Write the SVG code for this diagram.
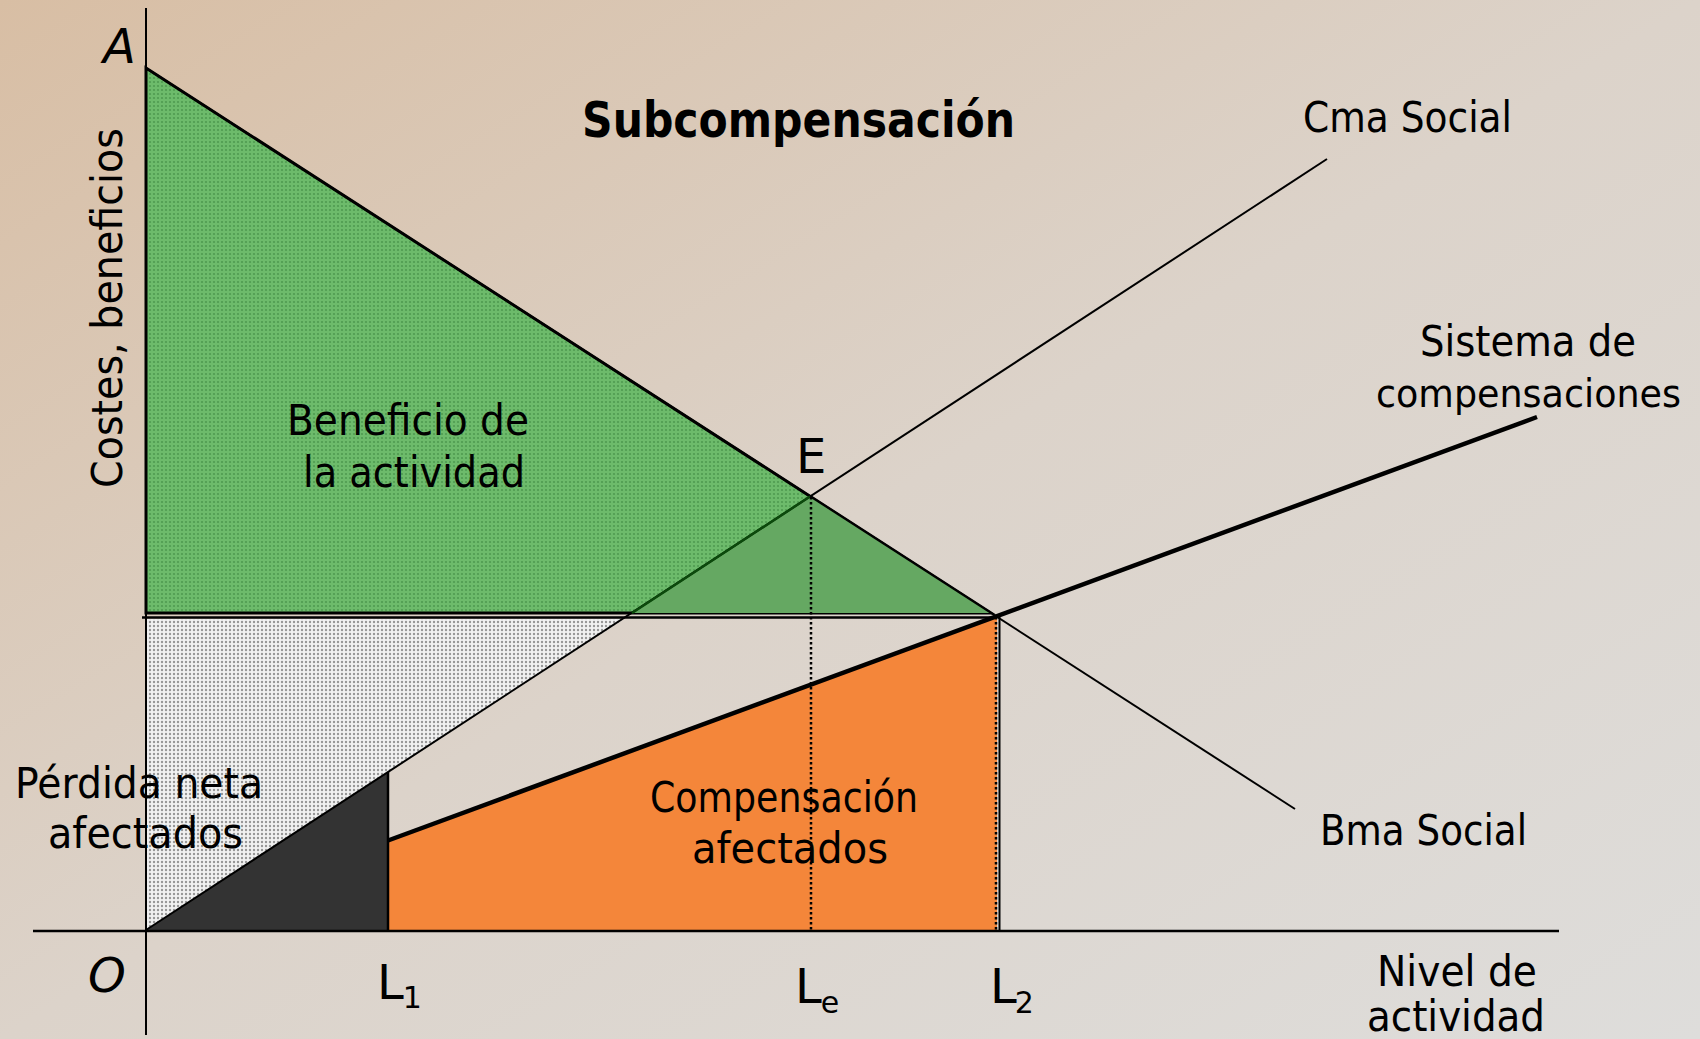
<svg xmlns="http://www.w3.org/2000/svg" width="1700" height="1039" viewBox="0 0 1700 1039">
<defs>
<linearGradient id="bg" x1="0" y1="0" x2="1" y2="1">
<stop offset="0" stop-color="#d8bea4"/>
<stop offset="0.5" stop-color="#dcd3ca"/>
<stop offset="1" stop-color="#dedddb"/>
</linearGradient>
<pattern id="dotsGray" width="4" height="4" patternUnits="userSpaceOnUse">
<rect width="4" height="4" fill="#f1f1f1"/>
<circle cx="2" cy="2" r="1.2" fill="#969696"/>
</pattern>
<pattern id="dotsGreen" width="4" height="4" patternUnits="userSpaceOnUse">
<rect width="4" height="4" fill="#6dbb6b"/>
<circle cx="2" cy="2" r="1.1" fill="#4f9b50"/>
</pattern>
<style>
text{font-family:"DejaVu Sans","Liberation Sans",sans-serif;fill:#000;}
.lbl{font-size:42px;}
.ax{font-size:48px;}
.sub{font-size:30px;}
.ln{stroke:#000;fill:none;}
.dot{stroke:#000;stroke-width:2.5;stroke-dasharray:2.5 2.5;fill:none;}
</style>
</defs>
<rect width="1700" height="1039" fill="url(#bg)"/>

<g id="perdida-region">
<polygon points="146,619 624,619 146,930" fill="url(#dotsGray)"/>
</g>
<g id="beneficio-region">
<polygon points="146,68 991,613 146,613" fill="url(#dotsGreen)" stroke="#000" stroke-width="3" stroke-linejoin="miter"/>
<polygon points="632,613 810,496.5 991,613" fill="#65a862"/>
</g>
<g id="compensacion-region">
<polygon points="388,840 997,616 997,930 388,930" fill="#f4863a"/>
</g>
<g id="perdida-black">
<polygon points="146,930 388,930 388,772" fill="#333333"/>
</g>

<g id="connectors">
<line class="ln" x1="146" y1="8" x2="146" y2="1035" stroke-width="2"/>
<line class="ln" x1="33" y1="931" x2="1559" y2="931" stroke-width="2.5"/>
<line class="ln" x1="142" y1="617.5" x2="997" y2="617.5" stroke-width="2.5"/>
<line class="ln" x1="146" y1="68" x2="1295" y2="809" stroke-width="2"/>
<line class="ln" x1="146" y1="930" x2="1327" y2="159" stroke-width="2"/>
<line x1="632" y1="613" x2="810" y2="496.5" stroke="#0b4a0b" stroke-width="2.5"/>
<line class="ln" x1="388" y1="840.5" x2="1537" y2="417" stroke-width="4.5"/>
<line class="ln" x1="388" y1="772" x2="388" y2="930" stroke-width="2.5"/>
<line class="ln" x1="999.5" y1="617" x2="999.5" y2="930" stroke-width="2"/>
<line class="dot" x1="996" y1="617" x2="996" y2="930"/>
<line class="dot" x1="811" y1="497" x2="811" y2="930"/>
</g>

<g id="labels">
<text x="582" y="137" font-size="50" font-weight="bold" textLength="433" lengthAdjust="spacingAndGlyphs">Subcompensación</text>
<text class="ax" x="103" y="63" font-style="italic">A</text>
<text class="ax" x="796" y="473">E</text>
<text class="ax" x="88" y="992" font-style="italic">O</text>
<text class="ax" x="377" y="999">L<tspan class="sub" dx="-1" dy="9">1</tspan></text>
<text class="ax" x="795" y="1003">L<tspan class="sub" dx="-1" dy="10">e</tspan></text>
<text class="ax" x="990" y="1003">L<tspan class="sub" dx="-2" dy="10">2</tspan></text>
<text class="lbl" x="1303" y="132" textLength="209" lengthAdjust="spacingAndGlyphs">Cma Social</text>
<text class="lbl" x="1636" y="356" text-anchor="end" textLength="216" lengthAdjust="spacingAndGlyphs">Sistema de</text>
<text x="1681" y="407" font-size="39" text-anchor="end" textLength="305" lengthAdjust="spacingAndGlyphs">compensaciones</text>
<text class="lbl" x="287" y="435" textLength="242" lengthAdjust="spacingAndGlyphs">Beneficio de</text>
<text class="lbl" x="303" y="487" textLength="222" lengthAdjust="spacingAndGlyphs">la actividad</text>
<text class="lbl" x="15" y="798" textLength="248" lengthAdjust="spacingAndGlyphs">Pérdida neta</text>
<text class="lbl" x="48" y="848" textLength="195" lengthAdjust="spacingAndGlyphs">afectados</text>
<text class="lbl" x="650" y="812" textLength="268" lengthAdjust="spacingAndGlyphs">Compensación</text>
<text class="lbl" x="692" y="863" textLength="196" lengthAdjust="spacingAndGlyphs">afectados</text>
<text class="lbl" x="1320" y="845" textLength="207" lengthAdjust="spacingAndGlyphs">Bma Social</text>
<text class="lbl" x="1377" y="986" textLength="160" lengthAdjust="spacingAndGlyphs">Nivel de</text>
<text class="lbl" x="1367" y="1031" textLength="178" lengthAdjust="spacingAndGlyphs">actividad</text>
<text class="lbl" transform="translate(122,488) rotate(-90)" textLength="360" lengthAdjust="spacingAndGlyphs">Costes, beneficios</text>
</g>
</svg>
